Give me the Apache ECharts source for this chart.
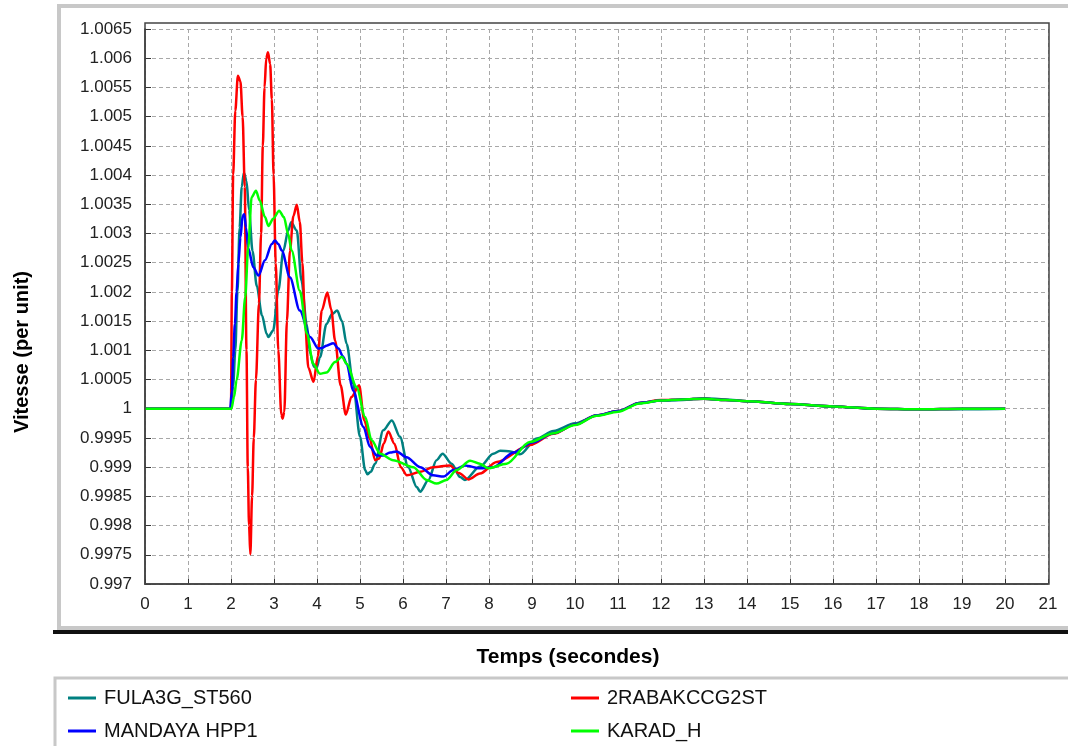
<!DOCTYPE html>
<html>
<head>
<meta charset="utf-8">
<script src="https://cdn.jsdelivr.net/npm/echarts@6/dist/echarts.min.js"></script>
<style>html,body{margin:0;padding:0;background:#fff}#c{width:1068px;height:746px}</style>
</head>
<body>
<div id="c"></div>
<script>
// ---- data: [time (s), speed (pu)] ----
var seriesNames = ['FULA3G_ST560', '2RABAKCCG2ST', 'MANDAYA HPP1', 'KARAD_H'];
var seriesColors = ['#008080', '#ff0000', '#0000ff', '#00ff00'];
var xTicks = {min: 0, max: 21, step: 1};
var yTicks = {min: 0.997, max: 1.0065, step: 0.0005};

var fula = [[0,1],[2.0,1],[2.05,1.0004],[2.1,1.001],[2.15,1.002],[2.2,1.0031],[2.25,1.0038],[2.3,1.00404],[2.36,1.0039],
 [2.42,1.0034],[2.5,1.0027],[2.6,1.0021],[2.72,1.0016],[2.83,1.00128],[2.87,1.00123],[2.98,1.00134],[3.1,1.00202],[3.22,1.00271],[3.33,1.00305],
 [3.4,1.00319],[3.53,1.00305],[3.64,1.00219],[3.76,1.00145],[3.84,1.00095],[3.93,1.00072],[3.99,1.0007],[4.07,1.00088],
 [4.22,1.00145],[4.35,1.00162],[4.47,1.00168],[4.58,1.0015],[4.69,1.00111],[4.84,1.00043],[5.0,0.99952],[5.12,0.99895],
 [5.17,0.99888],[5.25,0.99892],[5.35,0.99906],[5.54,0.99963],[5.74,0.9998],[5.93,0.99952],[6.12,0.999],[6.32,0.99866],
 [6.4,0.99858],[6.59,0.99878],[6.78,0.99912],[6.92,0.99923],[7.13,0.99906],[7.33,0.99883],[7.44,0.99878],[7.79,0.99901],
 [8.1,0.99923],[8.26,0.99928],[8.5,0.99927],[8.72,0.99922],[9.11,0.99949],[9.5,0.99962],[10,0.99975],[10.5,0.99988],
 [11,0.99996],[11.5,1.0001],[12,1.00014],[12.5,1.00015],[13,1.00018],[13.5,1.00016],[14,1.00013],[15,1.00008],
 [16,1.00004],[17,1.0],[18,0.99999],[19,0.99999],[20,1.0]];

var rabak = [[0,1],[2.0,1],[2.02,1.002],[2.05,1.004],[2.1,1.0051],[2.16,1.0057],[2.22,1.0056],[2.27,1.005],[2.32,1.0038],
 [2.36,1.001],[2.39,0.999],[2.42,0.998],[2.45,0.99751],[2.49,0.9985],[2.53,0.9995],[2.58,1.0005],[2.65,1.0018],[2.7,1.003],
 [2.74,1.0045],[2.78,1.0055],[2.82,1.006],[2.86,1.0061],[2.91,1.0059],[2.95,1.0053],[2.99,1.004],[3.04,1.0025],[3.1,1.001],
 [3.17,0.9999],[3.2,0.99983],[3.24,0.99995],[3.3,1.0015],[3.37,1.0027],[3.45,1.0033],[3.53,1.00349],[3.6,1.0032],
 [3.66,1.0025],[3.72,1.0015],[3.8,1.0007],[3.92,1.00046],[4.02,1.0009],[4.11,1.00168],[4.24,1.00199],[4.33,1.0017],
 [4.42,1.00117],[4.55,1.0004],[4.67,0.9999],[4.8,1.0002],[4.98,1.0004],[5.1,0.9998],[5.23,0.99948],[5.35,0.99912],
 [5.45,0.99915],[5.55,0.9994],[5.66,0.99961],[5.8,0.9994],[5.95,0.999],[6.09,0.99886],[6.4,0.99892],[6.7,0.999],
 [7.09,0.99903],[7.3,0.9989],[7.52,0.99879],[7.79,0.99889],[8.18,0.99909],[8.95,0.99938],[9.5,0.99957],[10,0.99973],
 [10.5,0.99989],[11,0.99996],[11.5,1.0001],[12,1.00015],[12.5,1.00016],[13,1.00017],[13.5,1.00015],[14,1.00013],
 [15,1.00008],[16,1.00004],[17,1.0],[18,0.99999],[19,1.0],[20,1.0]];

var mandaya = [[0,1],[1.98,1],[2.02,1.0003],[2.05,1.00088],[2.09,1.00145],[2.13,1.002],[2.17,1.00248],[2.22,1.00293],
 [2.27,1.0033],[2.31,1.00333],[2.35,1.0031],[2.4,1.00275],[2.52,1.00242],[2.64,1.00228],[2.79,1.00254],[2.95,1.00282],
 [3.02,1.00288],[3.1,1.00282],[3.18,1.00271],[3.37,1.00225],[3.6,1.00168],[3.84,1.00123],[4.03,1.00103],[4.12,1.00104],
 [4.22,1.00108],[4.38,1.00112],[4.5,1.00103],[4.6,1.0009],[4.69,1.00077],[4.84,1.00031],[5.08,0.99969],[5.23,0.99935],
 [5.39,0.9992],[5.54,0.9992],[5.7,0.99925],[5.85,0.99927],[6.08,0.99917],[6.4,0.999],[6.7,0.99886],[6.94,0.99884],
 [7.17,0.99895],[7.44,0.99903],[7.79,0.99898],[8.1,0.999],[8.57,0.99925],[9.0,0.99942],[9.5,0.99958],[10,0.99973],
 [10.5,0.99989],[11,0.99996],[11.5,1.0001],[12,1.00014],[12.5,1.00016],[13,1.00017],[13.5,1.00015],[14,1.00013],
 [15,1.00008],[16,1.00004],[17,1.0],[18,0.99999],[19,1.0],[20,1.0]];

var karad = [[0,1],[2.01,1],[2.07,1.0002],[2.13,1.00049],[2.25,1.00117],[2.33,1.00191],[2.4,1.00276],[2.48,1.00362],
 [2.58,1.00373],[2.67,1.00356],[2.79,1.00328],[2.87,1.00313],[2.98,1.00325],[3.12,1.00339],[3.23,1.00328],[3.33,1.00299],
 [3.41,1.00271],[3.6,1.00202],[3.77,1.00128],[3.91,1.00077],[4.07,1.0006],[4.22,1.00062],[4.42,1.0008],[4.58,1.00089],
 [4.69,1.00077],[4.92,1.00037],[5.12,0.99986],[5.27,0.99946],[5.47,0.99923],[5.77,0.99912],[6.24,0.999],[6.55,0.99878],
 [6.78,0.99872],[7.01,0.99878],[7.25,0.99895],[7.56,0.99911],[7.79,0.99906],[7.98,0.99898],[8.41,0.99906],[8.95,0.99943],
 [9.5,0.99958],[10,0.99972],[10.5,0.99988],[11,0.99995],[11.5,1.00009],[12,1.00014],[12.5,1.00016],[13,1.00017],
 [13.5,1.00015],[14,1.00013],[15,1.00008],[16,1.00004],[17,1.0],[18,0.99999],[19,1.0],[20,1.0]];

var seriesData = [fula, rabak, mandaya, karad];

var chart = echarts.init(document.getElementById('c'), null, {renderer: 'canvas'});
var font = 'Liberation Sans, Arial, sans-serif';
var gridLine = {show: true, lineStyle: {type: [4, 3], color: '#a8a8a8', width: 1}};

var option = {
  animation: false,
  backgroundColor: '#ffffff',
  color: seriesColors,
  grid: {left: 145, top: 29, right: 20, bottom: 162, containLabel: false},
  xAxis: {
    type: 'value', min: xTicks.min, max: xTicks.max, interval: xTicks.step,
    axisLine: {lineStyle: {color: '#333', width: 1.5}},
    axisTick: {inside: true, length: 5, lineStyle: {color: '#333'}},
    axisLabel: {margin: 12, fontSize: 17, color: '#222', fontFamily: font},
    splitLine: gridLine
  },
  yAxis: {
    type: 'value', min: yTicks.min, max: yTicks.max, interval: yTicks.step,
    axisLine: {show: true, lineStyle: {color: '#333', width: 1.5}},
    axisTick: {show: true, inside: true, length: 6, lineStyle: {color: '#333'}},
    axisLabel: {margin: 13, fontSize: 17, color: '#222', fontFamily: font,
      formatter: function (v) { return String(+(+v).toFixed(4)); }},
    splitLine: gridLine
  },
  legend: [
    {data: [seriesNames[0], seriesNames[2]], orient: 'vertical', left: 63, top: 683,
     icon: 'rect', itemWidth: 28, itemHeight: 3, itemGap: 13,
     textStyle: {fontSize: 20, fontFamily: font, color: '#111', padding: [0, 0, 0, 3]}},
    {data: [seriesNames[1], seriesNames[3]], orient: 'vertical', left: 566, top: 683,
     icon: 'rect', itemWidth: 28, itemHeight: 3, itemGap: 13,
     textStyle: {fontSize: 20, fontFamily: font, color: '#111', padding: [0, 0, 0, 3]}}
  ],
  graphic: [
    {type: 'rect', z: -10, shape: {x: 59, y: 6, width: 1030, height: 622}, style: {fill: '#fff', stroke: '#c8c8c8', lineWidth: 4}},
    {type: 'rect', z: -9, shape: {x: 53, y: 630, width: 1030, height: 4}, style: {fill: '#111'}},
    {type: 'rect', z: -10, shape: {x: 55, y: 678, width: 1030, height: 90}, style: {fill: '#fff', stroke: '#c8c8c8', lineWidth: 3}},
    {type: 'rect', z: 10, silent: true, shape: {x: 145, y: 23, width: 904, height: 561}, style: {fill: 'none', stroke: '#444', lineWidth: 1.5}},
    {type: 'text', z: 10, x: 568, y: 657, style: {text: 'Temps (secondes)', font: 'bold 21px ' + font, fill: '#000', align: 'center', verticalAlign: 'middle'}},
    {type: 'text', z: 10, x: 22, y: 352, rotation: Math.PI / 2, style: {text: 'Vitesse (per unit)', font: 'bold 20px ' + font, fill: '#000', align: 'center', verticalAlign: 'middle'}}
  ],
  series: seriesData.map(function (d, i) {
    return {
      name: seriesNames[i], type: 'line', data: d, showSymbol: false, symbol: 'none',
      smooth: 0.3, smoothMonotone: 'x',
      lineStyle: {width: 2.5, color: seriesColors[i]}, z: 2 + i
    };
  })
};
chart.setOption(option);
</script>
</body>
</html>
